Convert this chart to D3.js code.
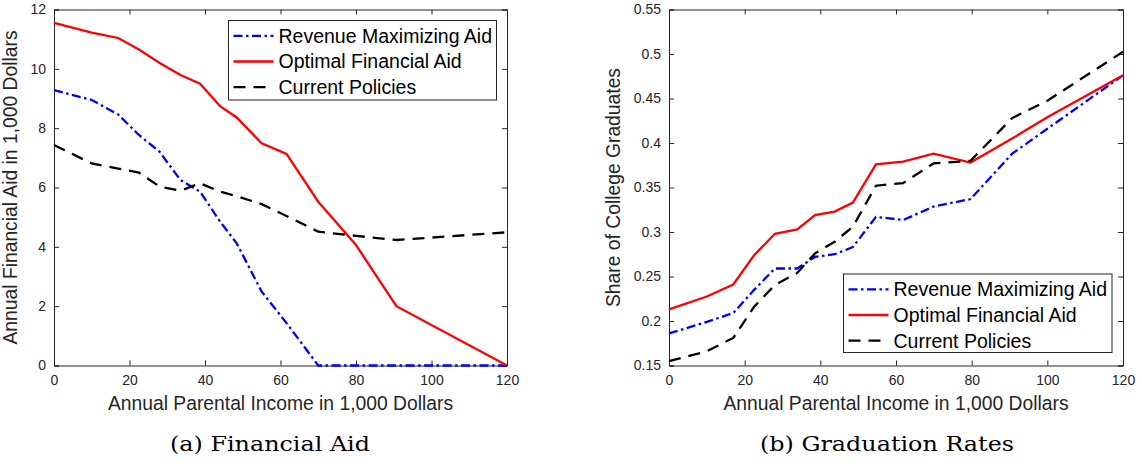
<!DOCTYPE html>
<html><head><meta charset="utf-8">
<script src="https://cdn.jsdelivr.net/npm/d3@7"></script>
<style>
body{margin:0;background:#fff;}
svg text{font-family:"Liberation Sans",Arial,sans-serif;}
</style></head>
<body><svg id="c" width="1142" height="464"></svg>
<script>
// Data
const income = [0,10,17,22.5,28,33.5,38.7,44,48.4,55,61.6,70,80,90.7,120];
const aidRevenue = [9.28,8.95,8.46,7.77,7.2,6.25,5.86,4.85,4.12,2.49,1.43,0,0,0,0];
const aidOptimal = [11.55,11.22,11.04,10.65,10.2,9.79,9.5,8.74,8.36,7.49,7.13,5.52,4.06,2.0,0];
const aidCurrent = [7.43,6.81,6.64,6.5,6.03,5.89,6.14,5.86,5.71,5.44,5.04,4.51,4.37,4.23,4.49];

const incomeB = [0,10,17,22.5,28,33.9,38.6,43.8,48.6,54.7,61.9,69.9,79.7,90.7,100,120];
const gradRevenue = [0.186,0.199,0.209,0.235,0.259,0.259,0.272,0.275,0.283,0.317,0.3135,0.3285,0.337,0.388,0.416,0.476];
const gradOptimal = [0.213,0.2275,0.241,0.274,0.298,0.303,0.319,0.323,0.333,0.376,0.379,0.388,0.378,0.405,0.429,0.476];
const gradCurrent = [0.155,0.166,0.181,0.216,0.2405,0.254,0.276,0.289,0.306,0.352,0.355,0.377,0.380,0.428,0.4475,0.5025];

const xTicks = [0,20,40,60,80,100,120];
const yTicksA = [0,2,4,6,8,10,12];
const yTicksB = [0.15,0.2,0.25,0.3,0.35,0.4,0.45,0.5,0.55];
const seriesNames = ["Revenue Maximizing Aid","Optimal Financial Aid","Current Policies"];
const seriesColors = ["#0000ff","#ff0000","#000000"];
const seriesDash = ["9,3.5,2.5,3.5",null,"12,8"];

const svg = d3.select("#c");
const axisColor = "#262626";

function panel(cfg){
  const {left,right,top,bottom,xs,ys,yDomain,yTicks,yFmt,ylabel,caption,legend} = cfg;
  const x = d3.scaleLinear().domain([0,120]).range([left,right]);
  const y = d3.scaleLinear().domain(yDomain).range([bottom,top]);
  const g = svg.append("g");
  const tl = 5;
  const ax = g.append("g").attr("transform",`translate(0,${bottom})`)
    .call(d3.axisBottom(x).tickValues(xTicks).tickSize(-tl).tickPadding(10).tickFormat(d3.format("d")));
  const axT = g.append("g").attr("transform",`translate(0,${top})`)
    .call(d3.axisTop(x).tickValues(xTicks).tickSize(-tl).tickFormat(""));
  const ay = g.append("g").attr("transform",`translate(${left},0)`)
    .call(d3.axisLeft(y).tickValues(yTicks).tickSize(-tl).tickPadding(8).tickFormat(yFmt));
  const ayR = g.append("g").attr("transform",`translate(${right},0)`)
    .call(d3.axisRight(y).tickValues(yTicks).tickSize(-tl).tickFormat(""));
  [ax,axT,ay,ayR].forEach(a=>{
    a.selectAll("path.domain").attr("stroke",axisColor).attr("stroke-width",1);
    a.selectAll(".tick line").attr("stroke",axisColor).attr("stroke-width",1);
    a.selectAll("text").attr("fill",axisColor).style("font-size","14px");
  });
  const line = d3.line().x((d,i)=>x(xs[i])).y(d=>y(d));
  ys.forEach((arr,k)=>{
    g.append("path").datum(arr).attr("d",line).attr("fill","none")
      .attr("stroke",seriesColors[k]).attr("stroke-width",2.3)
      .attr("stroke-dasharray",seriesDash[k]);
  });
  g.append("text").attr("x",(left+right)/2).attr("y",bottom+44.5).attr("text-anchor","middle")
    .attr("fill",axisColor).style("font-size","19.3px").text("Annual Parental Income in 1,000 Dollars");
  g.append("text").attr("transform",`translate(${left-cfg.ylabOff},${(top+bottom)/2}) rotate(-90)`)
    .attr("text-anchor","middle").attr("fill",axisColor).style("font-size","19.3px").text(ylabel);
  g.append("text").attr("x",cfg.capX - cfg.capW/2).attr("y",451)
    .attr("textLength",cfg.capW).attr("lengthAdjust","spacingAndGlyphs")
    .style("font-family","'DejaVu Serif','Liberation Serif',serif").style("font-size","21px")
    .attr("fill","#000").text(caption);
  const L = legend;
  g.append("rect").attr("x",L.x).attr("y",L.y).attr("width",L.w).attr("height",L.h)
    .attr("fill","#fff").attr("stroke",axisColor).attr("stroke-width",1);
  seriesNames.forEach((n,k)=>{
    const yy = L.y + 15.3 + k*25.7;
    g.append("line").attr("x1",L.x+5).attr("x2",L.x+45).attr("y1",yy).attr("y2",yy)
      .attr("stroke",seriesColors[k]).attr("stroke-width",2.3).attr("stroke-dasharray",seriesDash[k]);
    g.append("text").attr("x",L.x+50).attr("y",yy).attr("dy","0.35em")
      .attr("fill","#000").style("font-size","19.5px").text(n);
  });
}

panel({left:54,right:507,top:9.5,bottom:365.5,xs:income,ys:[aidRevenue,aidOptimal,aidCurrent],
  yDomain:[0,12],yTicks:yTicksA,yFmt:d3.format("d"),ylabel:"Annual Financial Aid in 1,000 Dollars",
  ylabOff:37,caption:"(a) Financial Aid",capX:270,capW:200,legend:{x:228.5,y:20.5,w:268,h:79.5}});
panel({left:669,right:1123,top:9.5,bottom:365.5,xs:incomeB,ys:[gradRevenue,gradOptimal,gradCurrent],
  yDomain:[0.15,0.55],yTicks:yTicksB,yFmt:d3.format("~g"),ylabel:"Share of College Graduates",
  ylabOff:49.5,caption:"(b) Graduation Rates",capX:887,capW:254,legend:{x:843.5,y:274,w:268.5,h:78.5}});
</script></body></html>
